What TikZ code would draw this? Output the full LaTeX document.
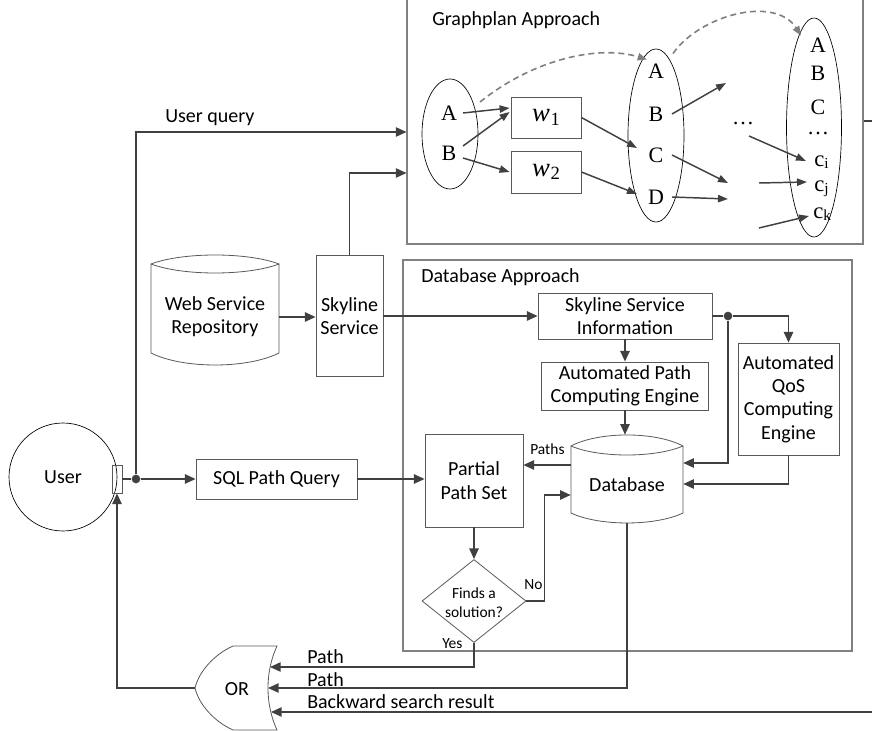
\documentclass[tikz,border=0pt]{standalone}
\usepackage{fontspec}
\setmainfont{Carlito}
\newfontfamily\serif{Liberation Serif}
\usetikzlibrary{arrows.meta,calc,shapes.geometric}

\definecolor{conn}{HTML}{404040}
\definecolor{frame}{HTML}{595959}
\definecolor{zone}{HTML}{808080}

% weight symbol w_i and literal c_i, set in Times-like serif
\newcommand\wsym[1]{{\serif\fontsize{20}{22}\selectfont\textit{w}\kern0.5pt{\fontsize{14}{16}\selectfont\raisebox{-2.5pt}{#1}}}}
\newcommand\csym[1]{{\serif\fontsize{17}{19}\selectfont c{\fontsize{11.5}{13}\selectfont\raisebox{-1.5pt}{#1}}}}

\begin{document}
\begin{tikzpicture}[x=0.75pt,y=-0.75pt,
  every node/.style={font=\fontsize{15}{17.5}\selectfont},
  box/.style={draw=frame, line width=0.6pt, rectangle, inner sep=0pt, align=center},
  zonebox/.style={draw=zone, line width=0.8pt, rectangle, inner sep=0pt},
  flow/.style={draw=conn, line width=1.2pt, -{Triangle[length=8pt,width=7pt]}},
  plain/.style={draw=conn, line width=1.2pt},
  gpflow/.style={draw=conn, line width=1.1pt, -{Triangle[length=7.5pt,width=5.5pt]}},
  hop/.style={draw=zone, line width=1.2pt, dash pattern=on 4.5pt off 3pt, -{Triangle[length=7pt,width=5.5pt]}},
  oval/.style={ellipse, draw=black, line width=0.5pt, inner sep=0pt},
  letter/.style={font=\serif\fontsize{16.5}{18}\selectfont, inner sep=1pt},
  small/.style={font=\fontsize{11.6}{14.3}\selectfont, inner sep=0pt},
  tag/.style={inner sep=0pt, anchor=base west},
  outline/.style={draw=frame, line width=0.6pt},
  junction/.style={circle, fill=conn, inner sep=0pt, minimum size=6.5pt},
]
\clip (0,0) rectangle (872,731);

% ---------------- approach frames ----------------
\node[zonebox, minimum width=342pt, minimum height=195pt] (gp) at (635,114) {};
\node[tag] (gpt) at (432,26) {Graphplan Approach};
\node[zonebox, minimum width=336.75pt, minimum height=293.25pt] (dba) at (627.5,455.5) {};
\node[tag] (dbt) at (421,283) {Database Approach};

% ---------------- graphplan layers ----------------
\node[oval, minimum width=42pt, minimum height=82.5pt] (e1) at (450,134) {};
\node[oval, minimum width=42pt, minimum height=129.75pt] (e2) at (656,135.5) {};
\node[oval, minimum width=41.25pt, minimum height=164.25pt] (e3) at (814,127.5) {};

\node[letter] (a1) at (449,113) {A};
\node[letter] (b1) at (449,153) {B};

\node[box, minimum width=52.5pt, minimum height=30.75pt] (w1) at (546,117.5) {\wsym{1}};
\node[box, minimum width=52.5pt, minimum height=31.5pt] (w2) at (546,172) {\wsym{2}};

\node[letter] (a2) at (656,71) {A};
\node[letter] (b2) at (656,114) {B};
\node[letter] (c2) at (656,155) {C};
\node[letter] (d2) at (656,197) {D};

\node[letter, inner sep=0pt] (md) at (743,124) {\dots};

\node[letter] (a3) at (818,45) {A};
\node[letter] (b3) at (818,73) {B};
\node[letter] (c3) at (818,107) {C};
\node[letter, inner sep=0pt] (d3) at (818,134) {\dots};
\node[inner sep=0pt, anchor=base west] (ci) at (814,167) {\csym{i}};
\node[inner sep=0pt, anchor=base west] (cj) at (814,192) {\csym{j}};
\node[inner sep=0pt, anchor=base west] (ck) at (813,219) {\csym{k}};

\coordinate (f1) at (726,83);
\coordinate (f2) at (728,183);
\coordinate (f3) at (728,199);
\coordinate (g1) at (749,136);
\coordinate (g2) at (759,183);
\coordinate (g3) at (759,228);

\draw[gpflow] ($(a1)+(14,0)$) -- ($(w1.west)+(-1,-9.5)$);
\draw[gpflow] ($(b1)+(14,-7)$) -- ($(w1.west)+(-1,-5.5)$);
\draw[gpflow] ($(b1)+(14,5)$) -- ($(w2.west)+(-1,0)$);
\draw[gpflow] (w1.east) -- ($(c2)+(-19,-7)$);
\draw[gpflow] (w2.east) -- ($(d2)+(-19,-3)$);
\draw[gpflow] ($(b2)+(16,0)$) -- (f1);
\draw[gpflow] ($(c2)+(16,0)$) -- (f2);
\draw[gpflow] ($(d2)+(16,0)$) -- (f3);
\draw[gpflow] (g1) -- ($(ci.base west)+(-8,-6)$);
\draw[gpflow] (g2) -- ($(cj.base west)+(-7,-10)$);
\draw[gpflow] (g3) -- ($(ck.base west)+(-4,-3)$);

\draw[hop] ($(e1)+(30,-32)$) .. controls (535,58) and (600,45) .. ($(e2)+(-9,-76)$);
\draw[hop] ($(e2)+(17,-82)$) .. controls (700,15) and (775,-5) .. ($(e3)+(-13,-92)$);

% graphplan result leaves to the right
\draw[plain] ($(gp.east)+(0,7)$) -- ++(20,0);

% ---------------- left side ----------------
\node[circle, draw=black, line width=0.5pt, minimum size=81pt, inner sep=0pt] (user) at (63,477) {User};
\node[box, minimum width=7.5pt, minimum height=21pt] (port) at (117,479) {};
\node[junction] (j1) at (136,479) {};
\node[box, minimum width=120.75pt, minimum height=30pt] (sql) at (276.5,479) {SQL Path Query};

% web service repository (cylinder)
\draw[outline] (151,264) .. controls (183,252) and (247,252) .. (279,264)
               .. controls (247,276) and (183,276) .. (151,264) -- (151,353)
               .. controls (183,369) and (247,369) .. (279,353) -- (279,264);
\node[align=center, inner sep=0pt, minimum width=96pt] (wsr) at (215,317) {Web Service\\Repository};

\node[box, minimum width=50.25pt, minimum height=90.75pt] (sky) at (349.5,316) {Skyline\\Service};

\node[tag] (uq) at (165,123) {User query};

% ---------------- database approach ----------------
\node[box, minimum width=130.5pt, minimum height=34.5pt] (ssi) at (625,316) {Skyline Service\\Information};
\node[box, minimum width=125.25pt, minimum height=36pt] (apce) at (625,386) {Automated Path\\Computing Engine};
\node[box, minimum width=75.75pt, minimum height=84pt] (qos) at (788.5,399) {Automated\\QoS\\Computing\\Engine};
\node[junction] (j2) at (728,316) {};

% database (cylinder)
\draw[outline] (571,446) .. controls (599,431.3) and (655,431.3) .. (683,446)
               .. controls (655,458) and (599,458) .. (571,446) -- (571,513)
               .. controls (599,526.3) and (655,526.3) .. (683,513) -- (683,446);
\node[inner sep=0pt, minimum width=84pt, minimum height=66pt] (db) at (627,479) {};
\node (dbl) at (627,485) {Database};

\node[box, minimum width=73.5pt, minimum height=69.75pt] (pps) at (474,480.5) {Partial\\Path Set};
\node[diamond, draw=frame, line width=0.6pt, inner sep=0pt, minimum width=78pt, minimum height=62.25pt] (dec) at (474,601) {};
\node[small, align=center] (decl) at (474,603) {Finds a\\solution?};

\node[tag, small] (pl) at (530,454) {Paths};
\node[tag, small] (nol) at (524,589) {No};
\node[tag, small] (yesl) at (442,648) {Yes};

% ---------------- OR gate ----------------
\draw[outline] (233,646) -- (277,646) .. controls (265,672) and (265,704) .. (277,730)
               -- (233,730) .. controls (215,722) and (199,705) .. (195,688)
               .. controls (199,671) and (215,654) .. (233,646) -- cycle;
\node (orn) at (237,689) {OR};
\coordinate (orout) at (195,688);
\coordinate (orin1) at (270,667);
\coordinate (orin2) at (268,688);
\coordinate (orin3) at (271,712);
\coordinate (bsr) at (880,712);

\node[tag] (p1l) at (307,663) {Path};
\node[tag] (p2l) at (307,686) {Path};
\node[tag] (bsl) at (307,708) {Backward search result};

% ---------------- connectors ----------------
\draw[plain] (port.east) -- (j1);
\draw[flow] (j1) -- (sql.west);
\draw[flow] (j1) |- ($(gp.west)+(0,18)$);
\draw[flow] (sky.north) |- ($(gp.west)+(0,59)$);
\draw[flow] (wsr.east) -- (wsr.east -| sky.west);
\draw[flow] (sky.east) -- (sky.east -| ssi.west);
\draw[plain] (ssi.east) -- (j2);
\draw[flow] (j2) -| (qos.north);
\draw[flow] (j2) |- ($(db.east)+(0,-16)$);
\draw[flow] (qos.south) |- ($(db.east)+(0,5)$);
\draw[flow] (ssi.south) -- (ssi.south |- apce.north);
\draw[flow] (apce.south) -- (apce.south |- db.north);
\coordinate (dbp) at ($(db.west)+(0,-14)$);
\draw[flow] (dbp) -- (dbp -| pps.east);
\draw[flow] (sql.east) -- (sql.east -| pps.west);
\draw[flow] (pps.south) -- (dec.north);
\draw[flow] (dec.east) -- ++(18,0) |- ($(db.west)+(0,16)$);
\draw[flow] (dec.south) |- (orin1);
\draw[flow] (db.south) |- (orin2);
\draw[flow] (bsr) -- (orin3);
\draw[flow] (orout) -| (port.south);
\end{tikzpicture}
\end{document}
